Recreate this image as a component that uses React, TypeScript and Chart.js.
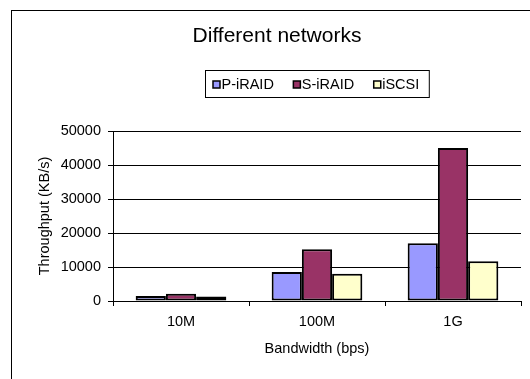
import { useEffect, useRef } from "react";
import { Chart, registerables } from "chart.js";

Chart.register(...registerables);

// Throughput per network bandwidth, KB/s
const categories = ["10M", "100M", "1G"];
const pIraid = [1500, 8500, 17000];
const sIraid = [2100, 15200, 45000];
const iscsi = [1300, 8000, 11700];
const seriesNames = ["P-iRAID", "S-iRAID", "iSCSI"];
const seriesColors = ["#9999FF", "#993366", "#FFFFCC"];
const yTicks = [0, 10000, 20000, 30000, 40000, 50000];

const chartTitle = "Different networks";
const xTitle = "Bandwidth (bps)";
const yTitle = "Throughput (KB/s)";

const FONT = "'Liberation Sans', Arial, Helvetica, sans-serif";
const W = 530;
const H = 379;

// Frame, heading and boxed legend drawn around the plot
const decorations = {
  id: "decorations",
  beforeDraw(chart: any) {
    const ctx = chart.ctx;
    ctx.save();
    ctx.fillStyle = "#ffffff";
    ctx.fillRect(0, 0, chart.width, chart.height);
    ctx.strokeStyle = "#000000";
    ctx.lineWidth = 1;
    ctx.strokeRect(11.5, 10.5, chart.width + 40, chart.height + 40);
    ctx.restore();
  },
  afterDraw(chart: any) {
    const ctx = chart.ctx;
    const area = chart.chartArea;
    ctx.save();

    // heading
    ctx.fillStyle = "#000000";
    ctx.font = `21px ${FONT}`;
    ctx.textAlign = "center";
    ctx.textBaseline = "middle";
    ctx.fillText(chartTitle, 277, 36);

    // legend
    ctx.font = `14.5px ${FONT}`;
    ctx.textAlign = "left";
    const sq = 7;
    const sqGap = 1.5;
    const itemGap = 19.5;
    const widths = chart.data.datasets.map((d: any) => ctx.measureText(d.label).width);
    const itemsW =
      widths.reduce((a: number, b: number) => a + b, 0) +
      widths.length * (sq + sqGap) +
      (widths.length - 1) * itemGap;
    const padL = 7.5;
    const padR = 10;
    const boxW = itemsW + padL + padR;
    const cx = (area.left + area.right) / 2;
    const boxX = Math.round(cx - boxW / 2) + 0.5;
    const boxY = 70.5;
    const boxH = 27;
    ctx.strokeStyle = "#000000";
    ctx.lineWidth = 1;
    ctx.strokeRect(boxX, boxY, boxW, boxH);

    const midY = 84.5;
    let x = boxX + padL;
    chart.data.datasets.forEach((d: any, i: number) => {
      ctx.fillStyle = d.backgroundColor;
      ctx.fillRect(x, midY - sq / 2, sq, sq);
      ctx.strokeStyle = "#000000";
      ctx.lineWidth = 1.5;
      ctx.strokeRect(x, midY - sq / 2, sq, sq);
      ctx.fillStyle = "#000000";
      ctx.fillText(d.label, x + sq + sqGap, midY + 0.5);
      x += sq + sqGap + widths[i] + itemGap;
    });

    ctx.restore();
  },
};

export default function App() {
  const canvasRef = useRef<HTMLCanvasElement | null>(null);

  useEffect(() => {
    document.body.style.margin = "0";
    const canvas = canvasRef.current;
    if (!canvas) return;

    const seriesValues = [pIraid, sIraid, iscsi];
    const chart = new Chart(canvas, {
      type: "bar",
      data: {
        labels: categories,
        datasets: seriesValues.map((values, i) => ({
          label: seriesNames[i],
          data: values,
          backgroundColor: seriesColors[i],
          borderColor: "#000000",
          borderWidth: 2,
          borderSkipped: false,
          categoryPercentage: 0.6667,
          barPercentage: 1,
        })),
      },
      options: {
        responsive: false,
        animation: false,
        devicePixelRatio: 1,
        layout: { padding: { top: 131, right: 9, bottom: 0, left: 0 } },
        plugins: {
          legend: { display: false },
          title: { display: false },
          tooltip: { enabled: false },
        },
        scales: {
          x: {
            afterFit: (scale: any) => {
              scale.height = 78;
            },
            grid: {
              offset: true,
              drawOnChartArea: false,
              drawTicks: true,
              tickLength: 5,
              color: "#000000",
            },
            border: { display: true, color: "#000000", width: 1 },
            ticks: {
              color: "#000000",
              font: { family: FONT, size: 14.5 },
              padding: 7,
            },
            title: {
              display: true,
              text: xTitle,
              color: "#000000",
              font: { family: FONT, size: 14.5 },
              padding: { top: 0, bottom: 21 },
            },
          },
          y: {
            min: yTicks[0],
            max: yTicks[yTicks.length - 1],
            afterFit: (scale: any) => {
              scale.width = 113;
            },
            afterBuildTicks: (scale: any) => {
              scale.ticks = yTicks.map((v) => ({ value: v }));
            },
            grid: {
              color: "#000000",
              lineWidth: 1,
              drawTicks: true,
              tickLength: 5,
            },
            border: { display: true, color: "#000000", width: 1 },
            ticks: {
              color: "#000000",
              font: { family: FONT, size: 14.5 },
              padding: 7,
              callback: (v: any) => String(v),
            },
            title: {
              display: true,
              text: yTitle,
              color: "#000000",
              font: { family: FONT, size: 14.5 },
              padding: { top: 36, bottom: 0 },
            },
          },
        },
      },
      plugins: [decorations],
    });

    return () => chart.destroy();
  }, []);

  return (
    <div style={{ width: W, height: H, position: "relative", background: "#fff" }}>
      <canvas ref={canvasRef} width={W} height={H} style={{ display: "block" }} />
    </div>
  );
}
